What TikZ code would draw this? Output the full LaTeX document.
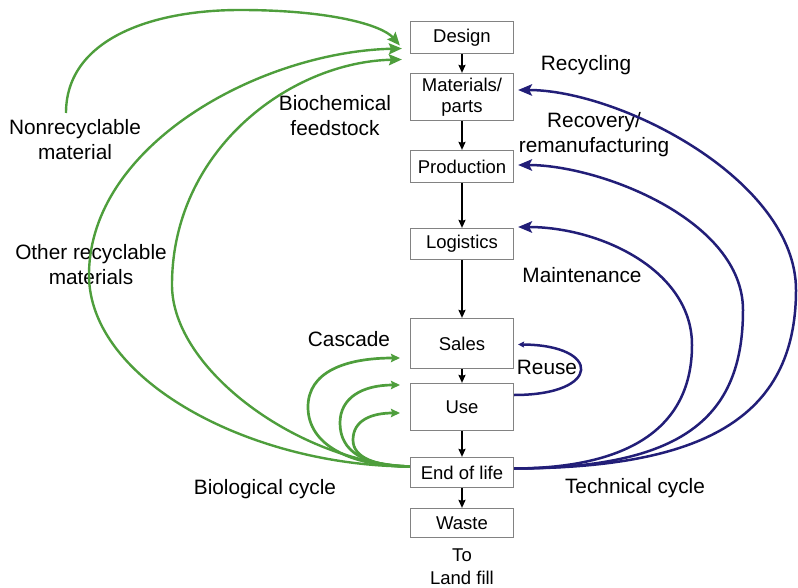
\documentclass[tikz,border=0pt]{standalone}
\usepackage{fontspec}
\setmainfont{Liberation Sans}
\usetikzlibrary{arrows.meta,calc}

\definecolor{bioGreen}{RGB}{78,158,60}
\definecolor{techBlue}{RGB}{34,30,120}
\definecolor{boxGray}{RGB}{130,130,130}

\begin{document}
\begin{tikzpicture}[x=1pt,y=-1pt,
  stage/.style={draw=boxGray,line width=1.2pt,minimum width=103pt,inner sep=0pt,
    align=center,font=\fontsize{18.5}{21}\selectfont},
  lbl/.style={align=center,inner sep=0pt,font=\fontsize{20.8}{25}\selectfont},
  flow/.style={line width=1.8pt,-{Stealth[length=8pt,width=7pt,inset=1pt]}},
  greenflow/.style={draw=bioGreen,line width=2.4pt,
    -{Stealth[length=13pt,width=11pt,inset=2pt]}},
  cascadeflow/.style={draw=bioGreen,line width=2.7pt,
    -{Stealth[length=9pt,width=8.5pt,inset=1.5pt]}},
  blueflow/.style={draw=techBlue,line width=2.5pt,
    -{Stealth[length=14pt,width=11.5pt,inset=3pt]}},
  reuseflow/.style={draw=techBlue,line width=2.5pt,
    -{Stealth[length=6pt,width=6pt,inset=1pt]}}]

\useasboundingbox (0,0) rectangle (798,588);

% product life-cycle stages
\node[stage,minimum height=32pt] (design) at (462,37.5) {Design};
\node[stage,minimum height=47pt] (mat) at (462,97) {Materials/\\parts};
\node[stage,minimum height=32pt] (prod) at (462,166.5) {Production};
\node[stage,minimum height=31pt] (logi) at (462,244) {Logistics};
\node[stage,minimum height=50pt] (sales) at (462,343.5) {Sales};
\node[stage,minimum height=47pt] (use) at (462,407) {Use};
\node[stage,minimum height=30pt] (eol) at (462,472.5) {End of life};
\node[stage,minimum height=29pt] (waste) at (462,523) {Waste};
\node[align=center,inner sep=0pt,font=\fontsize{18.5}{23}\selectfont] (fill) at (462,566.5) {To\\Land fill};

% main chain
\draw[flow] (design) -- (mat);
\draw[flow] (mat) -- (prod);
\draw[flow] (prod) -- (logi);
\draw[flow] (logi) -- (sales);
\draw[flow] (sales) -- (use);
\draw[flow] (use) -- (eol);
\draw[flow] (eol) -- (waste);

% labels
\node[lbl] (lnonrec) at (75,140) {Nonrecyclable\\material};
\node[lbl] (lother) at (91,264.5) {Other recyclable\\materials};
\node[lbl] (lbiochem) at (335,115.5) {Biochemical\\feedstock};
\node[lbl] (lcascade) at (349,339) {Cascade};
\node[lbl] (lbio) at (265,489) {Biological cycle};
\node[lbl] (lrecyc) at (586,65) {Recycling};
\node[lbl] (lrecov) at (594,134.5) {Recovery/\\remanufacturing};
\node[lbl] (lmaint) at (582,275) {Maintenance};
\node[lbl] (lreuse) at (547,367) {Reuse};
\node[lbl] (ltech) at (635,488) {Technical cycle};

% biological cycle
\coordinate (nonrecstart) at (66,113);
\draw[greenflow] (nonrecstart) .. controls (66,40) and (150,10) .. (240,10)
  .. controls (330,10) and (382,25) .. ($(design.west)+(-10,8)$);
\draw[greenflow] ([yshift=6pt]eol.west) .. controls (250,466) and (89,380) .. (89,275)
  .. controls (89,145) and (260,52) .. ($(design.west)+(-8,11)$);
\draw[greenflow] ([yshift=6pt]eol.west) .. controls (300,462) and (172,370) .. (172,285)
  .. controls (172,150) and (290,62) .. ($(design.west)+(-8,22)$);

% cascade loops
\draw[cascadeflow] ([yshift=6pt]eol.west) .. controls (350,466) and (308,445) .. (308,407)
  .. controls (308,372) and (345,358) .. ($(sales.west)+(-10,14.5)$);
\draw[cascadeflow] ([yshift=6pt]eol.west) .. controls (365,466) and (340,452) .. (340,423)
  .. controls (340,398) and (362,385) .. ($(use.west)+(-10,-22)$);
\draw[cascadeflow] ([yshift=6pt]eol.west) .. controls (376,466) and (353,458) .. (353,440)
  .. controls (353,420) and (372,413) .. ($(use.west)+(-10,6)$);

% technical cycle
\draw[blueflow] ([yshift=4pt]eol.east) .. controls (700,468) and (796,420) .. (796,290)
  .. controls (796,180) and (620,90) .. ($(mat.east)+(4,-7)$);
\draw[blueflow] ([yshift=4pt]eol.east) .. controls (680,468) and (743,420) .. (743,310)
  .. controls (743,220) and (600,165) .. ($(prod.east)+(4,-1.5)$);
\draw[blueflow] ([yshift=4pt]eol.east) .. controls (640,468) and (692,420) .. (692,345)
  .. controls (692,270) and (600,227) .. ($(logi.east)+(4,-17)$);
\draw[reuseflow] ([yshift=12pt]use.east) .. controls (602,395) and (602,345) .. ($(sales.east)+(4,1)$);

\end{tikzpicture}
\end{document}
